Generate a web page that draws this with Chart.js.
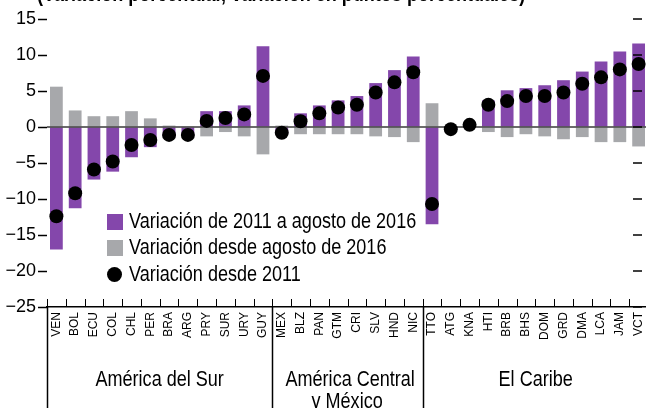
<!DOCTYPE html>
<html>
<head>
<meta charset="utf-8">
<script src="https://cdn.jsdelivr.net/npm/chart.js"></script>
<style>
  body { margin: 0; overflow: hidden; background: #fff; }
  #wrap { position: relative; width: 648px; height: 408px; }
  /* no hay fuente condensada: se estrecha el texto html */
  .txt { position: absolute; font-family: 'Liberation Sans', Arial, sans-serif; color: #000; white-space: nowrap;
         font-size: 22px; line-height: 22px; transform: scaleX(0.82); transform-origin: left top; }
  .centro { text-align: center; transform-origin: center top; }
  .sq { position: absolute; width: 16px; height: 16px; }
  .dot { position: absolute; width: 15px; height: 15px; border-radius: 50%; background: #000; }
</style>
</head>
<body>
<div id="wrap">
  <canvas id="myChart"></canvas>
  <div class="txt" style="left:37px; top:-17px; font-weight:bold;">(Variación porcentual; variación en puntos porcentuales)</div>
  <div class="sq" style="left:107px; top:214px; background:#8447ab;"></div>
  <div class="txt" style="left:129px; top:210px;">Variación de 2011 a agosto de 2016</div>
  <div class="sq" style="left:107px; top:240px; background:#a7a8ab;"></div>
  <div class="txt" style="left:129px; top:236px;">Variación desde agosto de 2016</div>
  <div class="dot" style="left:107px; top:267px;"></div>
  <div class="txt" style="left:129px; top:263px;">Variación desde 2011</div>
  <div id="grupos"></div>
</div>
<script>
const paises = ['VEN','BOL','ECU','COL','CHL','PER','BRA','ARG','PRY','SUR','URY','GUY',
  'MEX','BLZ','PAN','GTM','CRI','SLV','HND','NIC',
  'TTO','ATG','KNA','HTI','BRB','BHS','DOM','GRD','DMA','LCA','JAM','VCT']

const hastaAgosto2016 = [-17.0, -11.3, -7.3, -6.2, -4.2, -2.8, -1.3, -1.2, 2.2, 2.2, 3.0, 11.2,
  -1.0, 1.9, 3.0, 3.7, 4.3, 6.1, 7.9, 9.8,
  -13.5, -0.4, 0.4, 3.7, 5.1, 5.4, 5.8, 6.5, 7.7, 9.1, 10.5, 11.6]

const desdeAgosto2016 = [5.6, 2.3, 1.5, 1.5, 2.2, 1.2, 0.2, 0.1, -1.3, -0.7, -1.3, -3.8,
  0.2, -1.0, -1.0, -1.0, -1.0, -1.3, -1.4, -2.1,
  3.3, 0.1, -0.1, -0.7, -1.4, -1.0, -1.3, -1.7, -1.4, -2.1, -2.1, -2.7]

const desde2011 = [-12.4, -9.2, -5.9, -4.8, -2.5, -1.8, -1.1, -1.1, 0.85, 1.25, 1.75, 7.1,
  -0.8, 0.8, 1.9, 2.7, 3.1, 4.8, 6.2, 7.6,
  -10.7, -0.3, 0.3, 3.1, 3.6, 4.3, 4.3, 4.8, 6.0, 6.9, 8.0, 8.75]

const marcasY = [15, 10, 5, 0, -5, -10, -15, -20, -25]

const grupos = ['América del Sur', 'América Central<br>y México', 'El Caribe']
const tamGrupos = [12, 8, 12]

const fuente = "'Liberation Sans', Arial, sans-serif"

// etiquetas de grupo (texto html)
const cajaGrupos = document.getElementById('grupos')
grupos.forEach(g => {
  const d = document.createElement('div')
  d.className = 'txt centro'
  d.innerHTML = g
  cajaGrupos.appendChild(d)
})

const extras = {
  id: 'extras',
  beforeDatasetDraw(chart, args) {
    if (args.index !== 2) return
    const ctx = chart.ctx, a = chart.chartArea, y0 = chart.scales.y.getPixelForValue(0)
    ctx.save()
    ctx.strokeStyle = '#3a3a3a'
    ctx.lineWidth = 1.5
    ctx.beginPath()
    ctx.moveTo(a.left, y0)
    ctx.lineTo(a.right, y0)
    ctx.stroke()
    ctx.restore()
  },
  afterDraw(chart) {
    const ctx = chart.ctx, a = chart.chartArea, x = chart.scales.x, y = chart.scales.y
    const w = x.getPixelForValue(1) - x.getPixelForValue(0)
    ctx.save()
    ctx.strokeStyle = '#000'
    ctx.lineWidth = 1
    // marcas entre categorias
    for (let i = 0; i <= paises.length; i++) {
      const px = Math.round(x.getPixelForValue(i) - w / 2) + 0.5
      ctx.beginPath()
      ctx.moveTo(px, a.bottom - 8)
      ctx.lineTo(px, a.bottom)
      ctx.stroke()
    }
    // separadores de grupos
    let idx = 0
    const cortes = [0]
    tamGrupos.forEach(n => { idx += n; cortes.push(idx) })
    ctx.lineWidth = 1.5
    cortes.slice(0, 3).forEach(c => {
      const px = Math.round(x.getPixelForValue(c) - w / 2) + 0.5
      ctx.beginPath()
      ctx.moveTo(px, a.bottom)
      ctx.lineTo(px, chart.height)
      ctx.stroke()
    })
    // marcas del eje derecho
    y.ticks.forEach(t => {
      const py = y.getPixelForValue(t.value)
      ctx.beginPath()
      ctx.moveTo(a.right - 15, py)
      ctx.lineTo(a.right - 6, py)
      ctx.stroke()
    })
    ctx.restore()

    // posicion de etiquetas de grupo
    const divs = cajaGrupos.children
    for (let i = 0; i < grupos.length; i++) {
      const l = x.getPixelForValue(cortes[i]) - w / 2
      const r = x.getPixelForValue(cortes[i + 1]) - w / 2
      divs[i].style.left = l + 'px'
      divs[i].style.width = (r - l) + 'px'
      divs[i].style.top = (a.bottom + 61) + 'px'
    }
  }
}

const ctx = document.getElementById('myChart').getContext('2d')

const myChart = new Chart(ctx, {
  type: 'bar',
  data: {
    labels: paises,
    datasets: [{
      label: 'Variación de 2011 a agosto de 2016',
      data: hastaAgosto2016,
      backgroundColor: '#8447ab',
      stack: 'barras',
      order: 2,
      categoryPercentage: 1,
      barPercentage: 0.68
    }, {
      label: 'Variación desde agosto de 2016',
      data: desdeAgosto2016,
      backgroundColor: '#a7a8ab',
      stack: 'barras',
      order: 1,
      categoryPercentage: 1,
      barPercentage: 0.68
    }, {
      type: 'line',
      label: 'Variación desde 2011',
      data: desde2011,
      showLine: false,
      stack: 'puntos',
      order: 0,
      pointRadius: 7,
      pointHoverRadius: 7,
      pointBorderWidth: 0,
      backgroundColor: '#000',
      borderColor: '#000'
    }]
  },
  options: {
    responsive: true,
    maintainAspectRatio: false,
    animation: false,
    layout: { padding: 0, autoPadding: false },
    plugins: {
      legend: { display: false },
      tooltip: { enabled: false }
    },
    scales: {
      x: {
        stacked: true,
        grid: { display: false, drawTicks: false },
        border: { display: true, color: '#000', width: 1.5 },
        ticks: {
          autoSkip: false,
          maxRotation: 90,
          minRotation: 90,
          padding: 5,
          color: '#000',
          font: { family: fuente, size: 12 }
        },
        afterFit(scale) {
          scale.height = 101
          scale.paddingLeft = 0
          scale.paddingRight = 0
        }
      },
      y: {
        stacked: true,
        min: -25,
        max: 17.64,
        border: { display: false },
        grid: {
          drawOnChartArea: false,
          drawTicks: true,
          tickLength: 9,
          tickColor: '#000',
          tickWidth: 1.5
        },
        ticks: {
          padding: 2,
          color: '#000',
          font: { family: fuente, size: 18 },
          callback: v => v < 0 ? '\u2212' + Math.abs(v) : v
        },
        afterBuildTicks(scale) {
          scale.ticks = marcasY.map(v => ({ value: v }))
        },
        afterFit(scale) {
          scale.width = 47
          scale.paddingTop = 0
          scale.paddingBottom = 0
        }
      }
    }
  },
  plugins: [extras]
})
</script>
</body>
</html>
